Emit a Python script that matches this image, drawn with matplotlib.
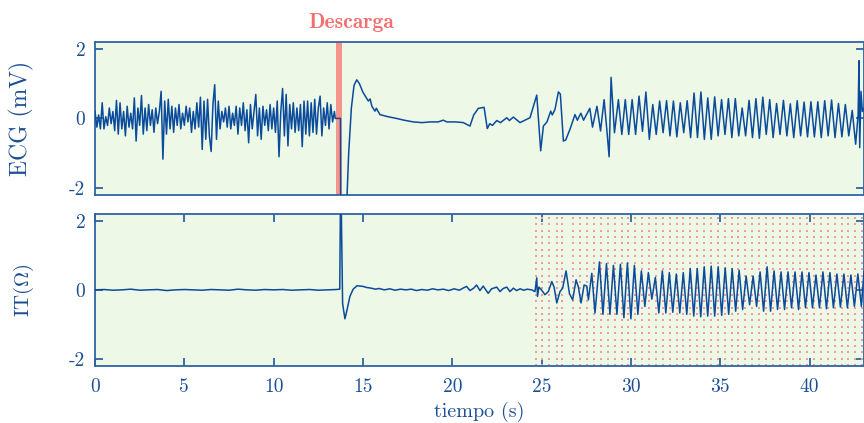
import numpy as np
import matplotlib
matplotlib.use("Agg")
from matplotlib import pyplot as plt

plt.rcParams['font.family'] = 'cmr10'
plt.rcParams['mathtext.fontset'] = 'cm'
plt.rcParams['axes.unicode_minus'] = False

# colours
c_text = '#1b4f93'
c_spine = '#2e64a4'
c_line = '#0a4b9b'
c_bg = '#eef8e7'
c_red = '#f4948a'

# ---- ECG (mV) ----
# pre-shock fibrillation, sampled every 0.1 s
ecg_noise = [0.2, -0.25, 0.1, -0.3, 0.45, -0.3, 0.05, -0.2, 0.3, -0.15,
             0.2, -0.35, 0.52, -0.45, 0.45, -0.3, 0.2, -0.5, 0.35, -0.25,
             0.15, -0.3, 0.59, -0.65, 0.3, -0.2, 0.66, -0.45, 0.3, -0.35,
             0.4, -0.2, 0.25, -0.4, 0.3, -0.15, 0.2, 0.78, -1.17, 0.5,
             -0.45, 0.55, -0.3, 0.35, -0.4, 0.3, -0.2, 0.4, -0.3, 0.15,
             -0.2, 0.35, -0.1, 0.3, -0.4, 0.2, -0.3, 0.45, -0.25, 0.61,
             -0.89, 0.5, -0.6, 0.55, -0.5, -0.95, 0.4, 0.97, -0.6, 0.5,
             -0.3, 0.2, -0.1, 0.3, -0.25, 0.35, -0.3, 0.15, -0.2, 0.35,
             -0.45, 0.3, -0.2, 0.45, -0.35, 0.25, -0.7, 0.4, -0.3, 0.2,
             0.69, -0.5, 0.3, -0.6, 0.35, -0.2, 0.25, -0.35, 0.4, -0.3,
             0.3, -0.4, 0.5, -1.1, 0.2, 0.86, -0.5, 0.69, -0.79, 0.4,
             -0.3, 0.45, -0.4, 0.3, -0.35, 0.4, -0.81, 0.5, -0.45, 0.5,
             -0.5, 0.45, -0.4, 0.55, -0.45, 0.3, 0.64, -0.5, 0.3, -0.2,
             0.45, -0.3, 0.4, -0.1, 0.2]
# shock and recovery
ecg_b_t = [13.45, 13.74, 13.75, 14.08, 14.2, 14.35, 14.5, 14.65, 14.8, 15.0,
           15.3, 15.4, 15.5, 15.67, 15.75, 15.95, 16.4, 16.88, 17.3, 17.82,
           18.3, 18.75, 19.2, 19.5, 19.7, 20.2, 20.62, 20.99, 21.2, 21.46,
           21.78, 21.96, 22.1, 22.25, 22.49, 22.7, 23.05, 23.2, 23.42, 23.79,
           24.35, 24.73, 24.95, 25.1, 25.3, 25.51, 25.6, 25.75, 25.94, 26.05,
           26.22, 26.35, 26.59, 26.87, 27.0, 27.2, 27.35, 27.7, 27.85, 28.1,
           28.3, 28.5, 28.65, 28.78, 28.89, 29.08]
ecg_b_v = [0.0, 0.0, -2.6, -2.6, -1.0, 0.3, 0.95, 1.11, 1.0, 0.75,
           0.5, 0.56, 0.35, 0.21, 0.29, 0.11, 0.05, 0.0, -0.05, -0.1,
           -0.12, -0.1, -0.1, -0.05, -0.1, -0.1, -0.12, -0.22, 0.1, 0.29,
           0.32, -0.29, -0.15, -0.2, -0.06, -0.12, 0.02, -0.06, 0.04, -0.12,
           0.02, 0.67, -0.93, -0.22, -0.1, 0.21, 0.1, 0.26, 0.76, 0.7,
           -0.65, -0.62, -0.31, 0.11, -0.05, 0.15, -0.05, 0.29, -0.25, 0.35,
           -0.36, 0.54, -0.31, -1.1, 1.18, -0.41]
# regular oscillation: peaks and troughs, half period 0.1925 s from 29.3 s
ecg_peaks = [0.54, 0.54, 0.54, 0.64, 0.76, 0.40, 0.50, 0.51, 0.50, 0.45,
             0.51, 0.73, 0.76, 0.59, 0.62, 0.54, 0.57, 0.57, 0.30, 0.52,
             0.57, 0.61, 0.54, 0.43, 0.52, 0.42, 0.51, 0.47, 0.48, 0.48,
             0.51, 0.53, 0.43, 0.40, 0.23]
ecg_troughs = [-0.46, -0.46, -0.46, -0.37, -0.60, -0.46, -0.41, -0.50, -0.53, -0.41,
               -0.55, -0.55, -0.60, -0.60, -0.50, -0.46, -0.55, -0.50, -0.50, -0.55,
               -0.57, -0.46, -0.55, -0.46, -0.50, -0.55, -0.50, -0.53, -0.53, -0.55,
               -0.50, -0.55, -0.53, -0.50, -0.74]
ecg_end_t = [42.72, 42.77, 42.81, 42.88, 42.96, 43.06]
ecg_end_v = [0.1, 1.66, -0.84, 0.78, 0.2, 0.3]

# ---- IT (ohm) ----
it_flat = [0.0, 0.01, -0.01, 0.0, 0.02, -0.01, 0.0, 0.01, -0.02, 0.0,
           0.01, 0.0, -0.01, 0.01, 0.0, -0.01, 0.02, 0.0, -0.01, 0.01,
           0.0, 0.01, -0.01, 0.0, 0.01, -0.01, 0.0, 0.01]
it_b_t = [13.70, 13.74, 13.78, 13.86, 13.99, 14.1, 14.27, 14.45, 14.67, 15.0,
          15.2, 15.45, 15.7, 15.9, 16.2, 16.5, 16.8, 17.1, 17.4, 17.7,
          18.0, 18.3, 18.6, 18.9, 19.2, 19.5, 19.8, 20.1, 20.4, 20.6,
          20.8, 20.99, 21.2, 21.36, 21.55, 21.73, 22.01, 22.2, 22.49, 22.67,
          22.85, 23.05, 23.23, 23.42, 23.6, 23.8, 24.0, 24.2, 24.45, 24.63,
          24.73, 24.77, 24.85, 24.99, 25.19, 25.38, 25.57, 25.7, 25.85, 26.03,
          26.18, 26.37, 26.56, 26.74, 26.93, 27.06, 27.21, 27.38, 27.53, 27.62,
          27.81, 27.99]
it_b_v = [0.02, 2.6, 2.6, -0.4, -0.84, -0.6, -0.19, 0.02, 0.12, 0.1,
          0.07, 0.05, 0.02, 0.04, 0.0, 0.03, -0.01, 0.02, 0.0, 0.02,
          -0.02, 0.01, -0.01, 0.03, 0.0, 0.02, -0.02, 0.03, -0.01, 0.05,
          0.1, -0.02, 0.05, 0.14, -0.02, 0.11, -0.1, 0.03, 0.08, -0.05,
          0.04, 0.08, -0.05, 0.05, -0.02, 0.03, -0.01, 0.02, 0.0, -0.05,
          0.35, -0.19, 0.08, 0.0, -0.14, -0.05, 0.24, 0.08, -0.38, -0.05,
          0.05, 0.55, -0.11, -0.29, 0.29, 0.08, -0.38, 0.14, 0.11, -0.29,
          0.48, -0.67]
# oscillation, half period 0.1955 s from 28.24 s
it_peaks = [0.81, 0.76, 0.71, 0.74, 0.78, 0.71, 0.55, 0.50, 0.36, 0.55,
            0.50, 0.46, 0.50, 0.62, 0.62, 0.67, 0.69, 0.67, 0.64, 0.62,
            0.57, 0.40, 0.40, 0.52, 0.67, 0.55, 0.52, 0.52, 0.52, 0.52,
            0.50, 0.43, 0.52, 0.50, 0.46, 0.46, 0.43, 0.46]
it_troughs = [-0.71, -0.71, -0.71, -0.81, -0.84, -0.71, -0.48, -0.27, -0.67, -0.67,
              -0.65, -0.67, -0.71, -0.76, -0.78, -0.76, -0.76, -0.74, -0.71, -0.62,
              -0.57, -0.43, -0.48, -0.62, -0.62, -0.57, -0.57, -0.52, -0.57, -0.52,
              -0.52, -0.52, -0.55, -0.52, -0.50, -0.52, -0.48, -0.48]
it_end_t = [43.05]
it_end_v = [0.52]

# columns of the dotted red grid (s)
grid_cols = [24.69, 25.04, 25.42, 25.88, 26.16]

descarga_t = 13.65

# build the polylines
ecg_osc = np.column_stack([ecg_peaks, ecg_troughs]).ravel()
t_ecg = np.concatenate([np.arange(len(ecg_noise)) * 0.1, ecg_b_t,
                        29.3 + np.arange(len(ecg_osc)) * 0.1925, ecg_end_t])
v_ecg = np.concatenate([ecg_noise, ecg_b_v, ecg_osc, ecg_end_v])

it_osc = np.column_stack([it_peaks, it_troughs]).ravel()
t_it = np.concatenate([np.arange(len(it_flat)) * 0.5, it_b_t,
                       28.24 + np.arange(len(it_osc)) * 0.1955, it_end_t])
v_it = np.concatenate([it_flat, it_b_v, it_osc, it_end_v])

fig = plt.figure(figsize=(8.64, 4.23), dpi=100)
ax1 = fig.add_axes([0.110, 0.539, 0.890, 0.362])
ax2 = fig.add_axes([0.110, 0.1355, 0.890, 0.3585])

for ax in (ax1, ax2):
    ax.set_facecolor(c_bg)
    ax.set_xlim(0, 43.05)
    ax.set_ylim(-2.2, 2.2)
    ax.set_yticks([-2, 0, 2])
    for s in ax.spines.values():
        s.set_color(c_spine)
        s.set_linewidth(1.3)
    ax.tick_params(direction='in', length=6, width=1.3, color=c_spine,
                   labelcolor=c_text, labelsize=14, right=True, top=True)
    ax.tick_params(axis='y', pad=7)
    ax.tick_params(axis='x', pad=9)

ax1.tick_params(axis='x', bottom=False, top=False, labelbottom=False)

# top: ECG
ax1.axvspan(descarga_t - 0.15, descarga_t + 0.15, color=c_red, lw=0, zorder=2)
ax1.plot(t_ecg, v_ecg, color=c_line, lw=1.1, zorder=3)
ax1.set_ylabel('ECG (mV)', fontsize=17, color=c_text, va='center')
ax1.yaxis.set_label_coords(-0.096, 0.5)
ax1.text(descarga_t + 0.7, 2.75, 'Descarga', family='cmb10', fontsize=15.5,
         color='#f47070', ha='center', va='center')

# bottom: IT with dotted red grid
cols = grid_cols + list(np.arange(26.78, 43.1, 0.385))
rows = np.arange(2.09, -2.2, -0.186)
gx, gy = np.meshgrid(cols, rows)
ax2.scatter(gx.ravel(), gy.ravel(), s=1.4, marker='s', color='#f59a96',
            linewidths=0, zorder=2)
ax2.plot(t_it, v_it, color=c_line, lw=1.1, zorder=3)
ax2.set_xticks([0, 5, 10, 15, 20, 25, 30, 35, 40])
ax2.set_ylabel(r'IT$(\Omega)$', fontsize=15, color=c_text, va='center')
ax2.yaxis.set_label_coords(-0.093, 0.5)
ax2.set_xlabel('tiempo (s)', fontsize=14.5, color=c_text, labelpad=4)

fig.savefig('out.png', dpi=100)
